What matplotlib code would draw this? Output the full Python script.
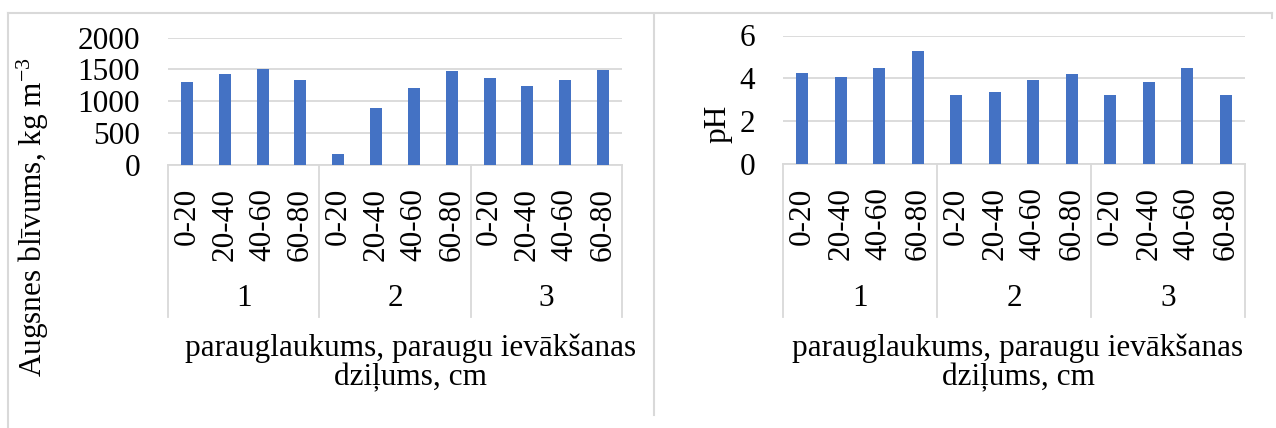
import matplotlib
matplotlib.use("Agg")
import matplotlib.pyplot as plt
import matplotlib.transforms as mtransforms
from matplotlib.lines import Line2D

plt.rcParams.update({
    "font.family": "Liberation Serif",
    "mathtext.fontset": "custom",
    "mathtext.rm": "Liberation Serif",
    "mathtext.default": "regular",
})

# data
depths = ["0-20", "20-40", "40-60", "60-80"]
plots = ["1", "2", "3"]
density = [1300, 1425, 1510, 1330, 170, 890, 1210, 1470, 1360, 1240, 1330, 1495]
ph = [4.27, 4.07, 4.50, 5.28, 3.21, 3.38, 3.93, 4.20, 3.21, 3.81, 4.50, 3.21]
density_ticks = [0, 500, 1000, 1500, 2000]
ph_ticks = [0, 2, 4, 6]
xtitle = "parauglaukums, paraugu ievākšanas\ndziļums, cm"

W, H = 1276, 428
BAR = "#4472C4"
GRID = "#D9D9D9"
FS = 22.5

fig = plt.figure(figsize=(W / 100, H / 100), dpi=100)


def px(x0, y0, x1, y1):
    # pixel box (top-left origin) -> figure fraction rect
    return [x0 / W, 1 - y1 / H, (x1 - x0) / W, (y1 - y0) / H]


def panel(rect, values, yticks, ylabel, ylab_xy, sep_bottom, group_y, title_x):
    ax = fig.add_axes(rect)
    labels = depths * len(plots)
    x = list(range(len(values)))
    ax.bar(x, values, width=0.32, color=BAR, zorder=3)
    ax.set_xlim(-0.5, len(values) - 0.5)
    ax.set_ylim(yticks[0], yticks[-1])
    ax.set_yticks(yticks)
    ax.set_yticklabels([str(t) for t in yticks], fontsize=FS)
    ax.set_xticks(x)
    ax.set_xticklabels(labels, rotation=90, va="top", ha="center", fontsize=FS)
    ax.tick_params(axis="both", length=0)
    ax.tick_params(axis="x", pad=17)
    ax.tick_params(axis="y", pad=20)
    for s in ["top", "right", "left"]:
        ax.spines[s].set_visible(False)
    ax.spines["bottom"].set_color(GRID)
    ax.spines["bottom"].set_linewidth(1.3)
    ax.yaxis.grid(True, color=GRID, linewidth=1.3, zorder=0)
    ax.set_axisbelow(True)

    # group separators and group labels of the two-level category axis
    tr = mtransforms.blended_transform_factory(ax.transData, fig.transFigure)
    y_top = rect[1]
    y_bot = 1 - sep_bottom / H
    n = len(depths)
    for k in range(len(plots) + 1):
        xs = k * n - 0.5
        ax.add_line(Line2D([xs, xs], [y_top, y_bot], transform=tr, color=GRID,
                           linewidth=1.3, clip_on=False))
    for k, p in enumerate(plots):
        ax.text(k * n + (n - 1) / 2, 1 - group_y / H, p, transform=tr,
                ha="center", va="center", fontsize=FS)

    fig.text(ylab_xy[0] / W, 1 - ylab_xy[1] / H, ylabel, rotation=90,
             ha="center", va="center", fontsize=FS)
    fig.text(title_x / W, 1 - 363 / H, xtitle,
             ha="center", va="center", fontsize=FS, linespacing=1.0)
    return ax


panel(px(168, 37.7, 622, 164.5), density, density_ticks,
      "Augsnes blīvums, kg m$^{-3}$", (33, 217), 317, 299, 411)
panel(px(783, 35.5, 1245, 164), ph, ph_ticks, "pH", (718, 124), 317, 299, 1018)

# light chart-area borders
for xs, ys in [([8, 8], [13, H]), ([8, 1272], [13, 13]),
               ([654, 654], [15, 415]), ([1272, 1272], [13, 18])]:
    fig.add_artist(Line2D([v / W for v in xs], [1 - v / H for v in ys],
                          color=GRID, linewidth=1.5))

fig.savefig("out.png", dpi=100, facecolor="white")
